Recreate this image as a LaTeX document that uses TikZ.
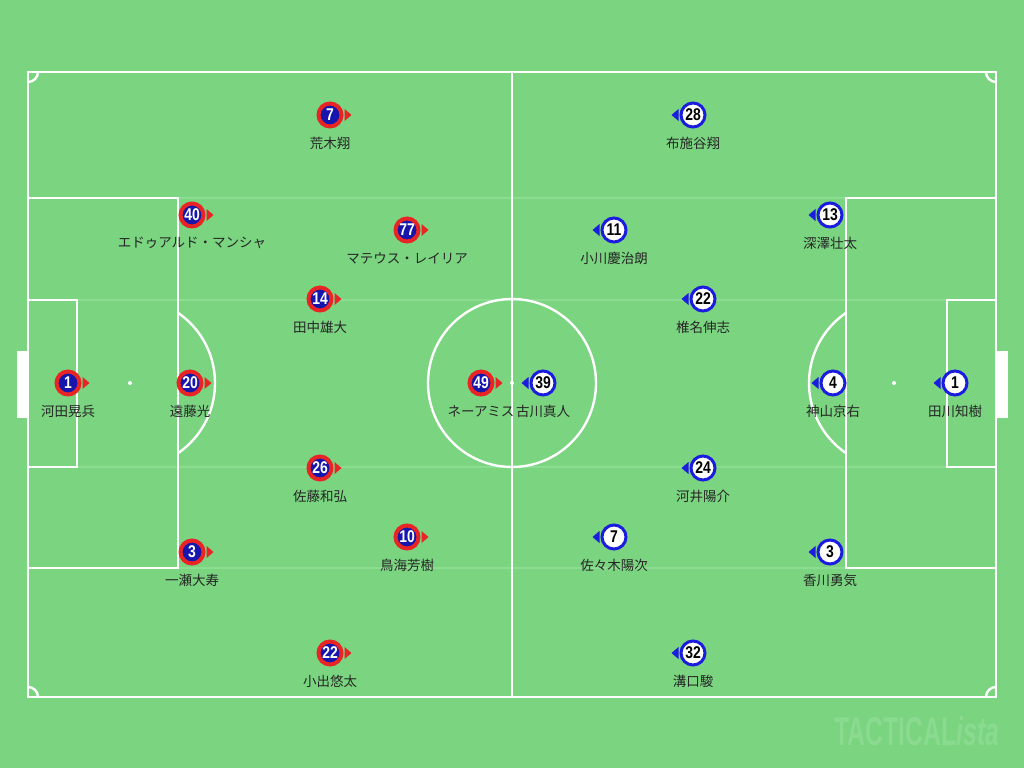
\documentclass[tikz,border=0pt]{standalone}
\usepackage{fontspec}
\usepackage{graphicx}
\newfontfamily\jpf{Noto Sans CJK JP}
\newfontfamily\numf{Liberation Sans}
\definecolor{pitch}{RGB}{122,212,128}
\definecolor{faint}{RGB}{140,220,146}
\definecolor{wmark}{RGB}{138,219,144}
\definecolor{redc}{RGB}{232,36,36}
\definecolor{navy}{RGB}{22,22,172}
\definecolor{bluec}{RGB}{28,28,222}
\newcommand\numtxt[1]{\scalebox{0.82}[1]{\numf\bfseries\fontsize{17}{17}\selectfont #1}}
\tikzset{
  line/.style={draw=white,line width=2.4pt},
  faintline/.style={draw=faint,line width=2pt},
  rdisc/.style={circle,minimum size=23pt,inner sep=0pt,line width=4pt,draw=redc,fill=navy,text=white},
  bdisc/.style={circle,minimum size=24pt,inner sep=0pt,line width=3pt,draw=bluec,fill=white,text=black},
  lab/.style={inner sep=0pt,font=\jpf\fontsize{13.5}{14}\selectfont,text=black!85}
}
\newcommand\rplayer[4]{%
  \node[rdisc] (#1) at (#2) {\numtxt{#3}};
  \fill[redc] ([xshift=1pt,yshift=6pt]#1.east) -- ++(7pt,-6pt) -- ++(-7pt,-6pt) -- cycle;
  \node[lab] (#1l) at ([yshift=-28pt]#1.center) {#4};
}
\newcommand\bplayer[4]{%
  \node[bdisc] (#1) at (#2) {\numtxt{#3}};
  \fill[bluec] ([xshift=-1pt,yshift=6pt]#1.west) -- ++(-7pt,-6pt) -- ++(7pt,-6pt) -- cycle;
  \node[lab] (#1l) at ([yshift=-28pt]#1.center) {#4};
}
\begin{document}
\begin{tikzpicture}[x=1pt,y=-1pt]
\useasboundingbox (0,0) rectangle (1024,768);
\fill[pitch] (0,0) rectangle (1024,768);
% faint stripes
\foreach \yy in {198,300,467,568} \draw[faintline] (28,\yy) -- (996,\yy);
% goals
\fill[white] (17,351) rectangle (28,418);
\fill[white] (996,351) rectangle (1008,418);
% outer lines
\draw[line] (28,72) rectangle (996,697);
\draw[line] (512,72) -- (512,697);
\draw[line] (512,383) circle[radius=84];
\fill[white] (512,383) circle[radius=2];
% penalty areas
\draw[line] (28,198) rectangle (178,568);
\draw[line] (28,300) rectangle (77,467);
\draw[line] (996,198) rectangle (846,568);
\draw[line] (996,300) rectangle (947,467);
\fill[white] (130,383) circle[radius=2];
\fill[white] (894,383) circle[radius=2];
\begin{scope}
  \clip (178,0) rectangle (400,768);
  \draw[line] (130,383) circle[radius=85];
\end{scope}
\begin{scope}
  \clip (846,0) rectangle (600,768);
  \draw[line] (894,383) circle[radius=85];
\end{scope}
% corner arcs
\begin{scope}
  \clip (28,72) rectangle (996,697);
  \draw[line] (28,72) circle[radius=10];
  \draw[line] (996,72) circle[radius=10];
  \draw[line] (28,697) circle[radius=10];
  \draw[line] (996,697) circle[radius=10];
\end{scope}
% red team
\rplayer{r1}{68,383}{1}{河田晃兵}
\rplayer{r20}{190,383}{20}{遠藤光}
\rplayer{r40}{192,215}{40}{エドゥアルド・マンシャ}
\rplayer{r3}{192,552}{3}{一瀬大寿}
\rplayer{r7}{330,115}{7}{荒木翔}
\rplayer{r14}{320,299}{14}{田中雄大}
\rplayer{r26}{320,468}{26}{佐藤和弘}
\rplayer{r22}{330,653}{22}{小出悠太}
\rplayer{r77}{407,230}{77}{マテウス・レイリア}
\rplayer{r10}{407,537}{10}{鳥海芳樹}
\rplayer{r49}{481,383}{49}{ネーアミス}
% blue team
\bplayer{b28}{693,115}{28}{布施谷翔}
\bplayer{b11}{614,230}{11}{小川慶治朗}
\bplayer{b13}{830,215}{13}{深澤壮太}
\bplayer{b22}{703,299}{22}{椎名伸志}
\bplayer{b39}{543,383}{39}{古川真人}
\bplayer{b4}{833,383}{4}{神山京右}
\bplayer{b1}{955,383}{1}{田川知樹}
\bplayer{b24}{703,468}{24}{河井陽介}
\bplayer{b7}{614,537}{7}{佐々木陽次}
\bplayer{b3}{830,552}{3}{香川勇気}
\bplayer{b32}{693,653}{32}{溝口駿}
% watermark
\node[inner sep=0pt,text=wmark,anchor=center] (wm) at (917,731)
  {\scalebox{0.62}[1]{\numf\bfseries\fontsize{40}{40}\selectfont TACTICAL\itshape ista}};
\end{tikzpicture}
\end{document}
